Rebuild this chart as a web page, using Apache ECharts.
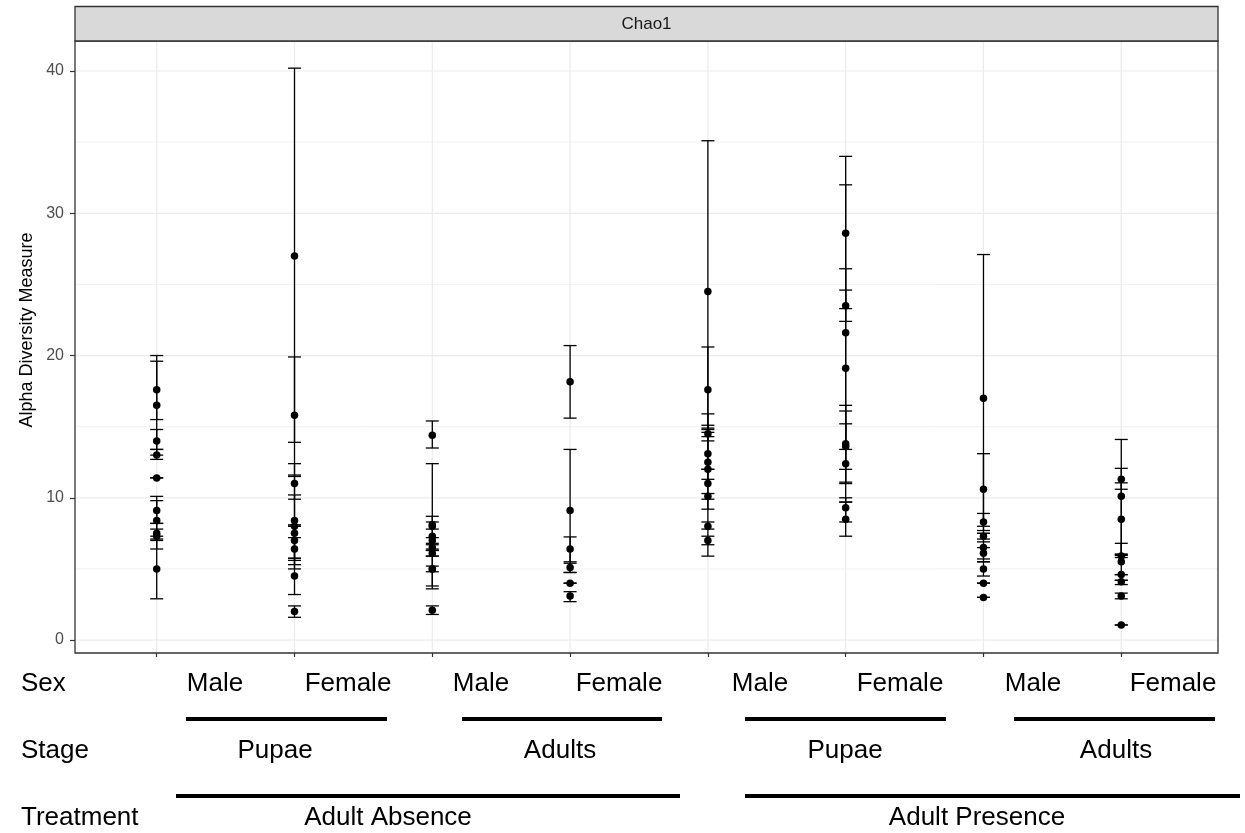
<!DOCTYPE html>
<html><head><meta charset="utf-8">
<script src="https://cdn.jsdelivr.net/npm/echarts@6/dist/echarts.min.js"></script>
<style>html,body{margin:0;padding:0;background:#fff}#c{width:1245px;height:833px}</style>
</head><body><div id="c"></div>
<script>
// ---- data ----
const groups = ['Male Pupae Absence','Female Pupae Absence','Male Adults Absence','Female Adults Absence',
                'Male Pupae Presence','Female Pupae Presence','Male Adults Presence','Female Adults Presence'];
const groupIndex = [0,1,2,3,4,5,6,7];
const chao1Values = [
  [17.6, 16.5, 14.0, 13.0, 11.4, 9.1, 8.4, 7.5, 7.3, 5.0],
  [27.0, 15.8, 11.0, 8.4, 8.0, 7.5, 7.0, 6.4, 4.5, 2.0],
  [14.4, 8.1, 8.0, 7.3, 7.0, 6.5, 6.1, 5.0, 5.0, 2.1],
  [18.15, 9.1, 6.4, 5.1, 4.0, 3.1],
  [24.5, 17.6, 14.5, 13.1, 12.5, 12.0, 11.0, 10.1, 8.0, 7.0],
  [28.6, 23.5, 21.6, 19.1, 13.8, 13.6, 12.4, 9.3, 8.5],
  [17.0, 10.6, 8.3, 7.3, 6.5, 6.1, 5.0, 4.0, 3.0],
  [11.3, 10.1, 8.5, 5.9, 5.5, 4.6, 4.1, 3.1, 1.06]
];
const chao1Lower = [
  [15.5, 13.0, 13.4, 12.7, 11.4, 8.2, 7.0, 7.3, 6.4, 2.9],
  [13.9, 11.6, 9.9, 5.3, 8.0, 5.0, 5.75, 5.6, 3.2, 1.6],
  [13.5, 3.8, 7.8, 5.9, 6.8, 6.3, 5.9, 4.8, 3.6, 1.8],
  [15.6, 4.75, 5.5, 4.75, 4.0, 2.7],
  [14.0, 14.6, 14.3, 11.3, 9.2, 12.0, 5.9, 9.9, 7.8, 6.7],
  [23.3, 22.4, 11.0, 12.0, 13.4, 11.1, 9.7, 8.3, 7.3],
  [6.9, 8.0, 7.7, 7.1, 5.5, 5.7, 4.5, 4.0, 3.0],
  [10.6, 6.05, 5.95, 5.8, 4.2, 4.6, 3.9, 2.9, 1.06]
];
const chao1Upper = [
  [19.6, 20.0, 14.8, 13.4, 11.4, 10.1, 9.8, 7.8, 8.2, 7.1],
  [40.2, 19.9, 12.4, 11.5, 8.0, 10.2, 8.1, 7.2, 5.75, 2.4],
  [15.4, 12.4, 8.3, 8.7, 7.2, 6.7, 6.3, 5.2, 6.4, 2.4],
  [20.7, 13.4, 7.25, 5.4, 4.0, 3.4],
  [35.1, 20.6, 14.8, 14.9, 15.9, 12.0, 15.1, 10.3, 8.3, 7.3],
  [34.0, 24.6, 32.0, 26.1, 16.5, 16.1, 15.2, 10.0, 9.7],
  [27.1, 13.1, 8.9, 7.5, 7.5, 6.5, 5.5, 4.0, 3.0],
  [12.07, 14.1, 11.05, 6.0, 6.8, 4.6, 4.2, 3.3, 1.06]
];
const yTicks = [0, 10, 20, 30, 40];
const yMinorTicks = [5, 15, 25, 35];
const facetLabel = 'Chao1';
const yTitle = 'Alpha Diversity Measure';
const rowTitles = ['Sex', 'Stage', 'Treatment'];
const sexLabels = ['Male','Female','Male','Female','Male','Female','Male','Female'];
const stageLabels = ['Pupae','Adults','Pupae','Adults'];
const treatmentLabels = ['Adult Absence','Adult Presence'];

// ---- build ----
const points = [], bars = [];
groupIndex.forEach(g => {
  chao1Values[g].forEach((v, j) => {
    points.push([g, v]);
    bars.push([g, v, chao1Lower[g][j], chao1Upper[g][j]]);
  });
});
const hGrid = yTicks.map(v => [0, v, 1]).concat(yMinorTicks.map(v => [0, v, 0]));
const vGrid = groupIndex.map(g => [g, 0]);

const FONT = '"Liberation Sans", Arial, sans-serif';
const chart = echarts.init(document.getElementById('c'), null, {renderer: 'canvas'});

// annotation layout
const sexX = [215, 348, 481, 619, 760, 900, 1033, 1173];
const stageX = [275, 560, 845, 1116];
const treatX = [388, 977];
const rowY = [684, 751, 818];
const line1 = [[186, 387], [462, 662], [745, 946], [1014, 1215]];
const line2 = [[176, 680], [745, 1240]];

const graphics = [];
graphics.push({type: 'rect', shape: {x: 75, y: 6.5, width: 1143, height: 34.5},
  style: {fill: '#D9D9D9', stroke: '#333333', lineWidth: 1.3}, z: 10});
graphics.push({type: 'text', x: 646.5, y: 24, z: 11,
  style: {text: facetLabel, fill: '#1A1A1A', font: '17px ' + FONT, align: 'center', verticalAlign: 'middle'}});
graphics.push({type: 'text', x: 27, y: 330, rotation: Math.PI / 2, z: 11,
  style: {text: yTitle, fill: '#000', font: '18px ' + FONT, align: 'center', verticalAlign: 'middle'}});
rowTitles.forEach((t, i) => graphics.push({type: 'text', x: 21, y: rowY[i],
  style: {text: t, fill: '#000', font: '26px ' + FONT, align: 'left', verticalAlign: 'middle'}}));
sexLabels.forEach((t, i) => graphics.push({type: 'text', x: sexX[i], y: rowY[0],
  style: {text: t, fill: '#000', font: '26px ' + FONT, align: 'center', verticalAlign: 'middle'}}));
stageLabels.forEach((t, i) => graphics.push({type: 'text', x: stageX[i], y: rowY[1],
  style: {text: t, fill: '#000', font: '26px ' + FONT, align: 'center', verticalAlign: 'middle'}}));
treatmentLabels.forEach((t, i) => graphics.push({type: 'text', x: treatX[i], y: rowY[2],
  style: {text: t, fill: '#000', font: '26px ' + FONT, align: 'center', verticalAlign: 'middle'}}));
line1.forEach(s => graphics.push({type: 'rect', shape: {x: s[0], y: 717, width: s[1] - s[0], height: 4}, style: {fill: '#000'}}));
line2.forEach(s => graphics.push({type: 'rect', shape: {x: s[0], y: 794, width: s[1] - s[0], height: 4}, style: {fill: '#000'}}));

const option = {
  animation: false,
  backgroundColor: '#fff',
  grid: {left: 75, top: 41, width: 1143, height: 612, show: true, borderColor: '#333333', borderWidth: 1.3, backgroundColor: 'transparent', z: 5},
  xAxis: {
    type: 'value', min: -0.593, max: 7.702,
    axisLine: {show: false, onZero: false},
    axisLabel: {show: false},
    axisTick: {show: true, customValues: groupIndex, length: 4, lineStyle: {color: '#333333', width: 1.2}},
    splitLine: {show: false}
  },
  yAxis: {
    type: 'value', min: -0.91, max: 42.11,
    axisLine: {show: false, onZero: false},
    axisLabel: {show: true, customValues: yTicks, color: '#4D4D4D', fontSize: 16, fontFamily: FONT, margin: 11},
    axisTick: {show: true, customValues: yTicks, length: 5, lineStyle: {color: '#333333', width: 1.2}},
    splitLine: {show: false}
  },
  graphic: graphics,
  series: [
    {
      type: 'custom', silent: true, z: 1, data: hGrid, encode: {x: 0, y: 1}, clip: false,
      renderItem: (params, api) => {
        const cs = params.coordSys;
        const y = api.coord([0, api.value(1)])[1];
        const major = api.value(2) === 1;
        return {type: 'line', shape: {x1: cs.x, y1: y, x2: cs.x + cs.width, y2: y},
          style: {stroke: major ? '#EBEBEB' : '#F1F1F1', lineWidth: major ? 1.2 : 1}};
      }
    },
    {
      type: 'custom', silent: true, z: 1, data: vGrid, encode: {x: 0, y: 1}, clip: false,
      renderItem: (params, api) => {
        const cs = params.coordSys;
        const x = api.coord([api.value(0), 0])[0];
        return {type: 'line', shape: {x1: x, y1: cs.y, x2: x, y2: cs.y + cs.height},
          style: {stroke: '#EBEBEB', lineWidth: 1.2}};
      }
    },
    {
      type: 'custom', silent: true, z: 3, data: bars, encode: {x: 0, y: [1, 2, 3]},
      renderItem: (params, api) => {
        const x = api.value(0);
        const lo = api.coord([x, api.value(2)]);
        const hi = api.coord([x, api.value(3)]);
        const hw = 6.5;
        const st = {stroke: '#000', lineWidth: 1.3, fill: null};
        return {type: 'group', children: [
          {type: 'line', shape: {x1: lo[0], y1: lo[1], x2: hi[0], y2: hi[1]}, style: st},
          {type: 'line', shape: {x1: lo[0] - hw, y1: lo[1], x2: lo[0] + hw, y2: lo[1]}, style: st},
          {type: 'line', shape: {x1: hi[0] - hw, y1: hi[1], x2: hi[0] + hw, y2: hi[1]}, style: st}
        ]};
      }
    },
    {
      type: 'scatter', z: 4, silent: true, data: points, symbol: 'circle', symbolSize: 7.5,
      itemStyle: {color: '#000', opacity: 1}
    }
  ]
};
chart.setOption(option);
</script>
</body></html>
